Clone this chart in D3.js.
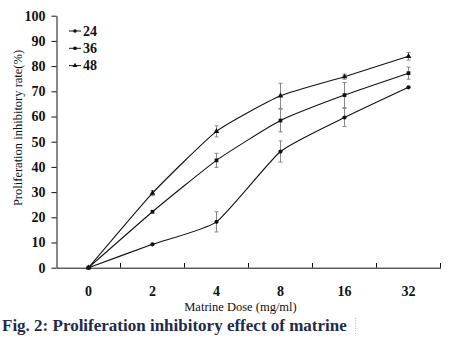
<!DOCTYPE html>
<html><head><meta charset="utf-8">
<script src="https://cdn.jsdelivr.net/npm/d3@7"></script>
<style>body{margin:0;background:#fff}svg{display:block}</style>
</head><body>
<svg id="c" width="469" height="348"></svg>
<script>
const doses = ["0","2","4","8","16","32"];
const seriesNames = ["24","36","48"];
const values24 = [0, 9.3, 18.2, 46.1, 59.6, 71.6];
const values36 = [0, 22.2, 42.6, 58.4, 68.5, 77.2];
const values48 = [0, 29.6, 54.1, 68.2, 75.8, 83.9];
const err24 = [0, 0.4, 4, 4.2, 3.6, 0.4];
const err36 = [0, 0.4, 2.8, 4.5, 5, 2.4];
const err48 = [0, 1, 2.2, 5, 1, 1.5];
const yTicks = [0,10,20,30,40,50,60,70,80,90,100];

const svg = d3.select("#c");
const x = d3.scaleBand().domain(doses).range([56.5, 440.5]);
const y = d3.scaleLinear().domain([0,100]).range([267.7, 15.7]);
const serif = "'Liberation Serif','Times New Roman',serif";

// y axis
const yAxis = svg.append("g").attr("transform","translate(56.5,0)")
  .call(d3.axisLeft(y).tickValues(yTicks).tickSize(5).tickPadding(6).tickSizeOuter(0));
yAxis.select(".domain").attr("stroke","#111");
yAxis.selectAll(".tick line").attr("stroke","#111");
yAxis.selectAll("text").attr("font-family",serif).attr("font-weight","bold")
  .attr("font-size",14).attr("fill","#111");

// x axis
const xAxis = svg.append("g").attr("transform","translate(0,267.7)")
  .call(d3.axisBottom(x).tickSize(0).tickPadding(18).tickSizeOuter(0));
xAxis.select(".domain").attr("stroke","#111");
xAxis.selectAll("text").attr("font-family",serif).attr("font-weight","bold")
  .attr("font-size",14).attr("fill","#111");
svg.append("g").selectAll("line").data(doses).join("line")
  .attr("x1",d=>x(d)+x.bandwidth()).attr("x2",d=>x(d)+x.bandwidth())
  .attr("y1",267.7).attr("y2",263).attr("stroke","#111");

// titles
svg.append("text").attr("transform","translate(22,128) rotate(-90)")
  .attr("text-anchor","middle").attr("font-family",serif).attr("font-size",12.5)
  .attr("fill","#111").text("Proliferation inhibitory rate(%)");
svg.append("text").attr("x",240.5).attr("y",310.5).attr("text-anchor","middle")
  .attr("font-family",serif).attr("font-size",12.5).attr("fill","#111")
  .text("Matrine Dose (mg/ml)");
svg.append("text").attr("x",2).attr("y",330.5)
  .attr("font-family",serif).attr("font-weight","bold").attr("font-size",17)
  .attr("fill","#1f2b4a").text("Fig. 2: Proliferation inhibitory effect of matrine");
svg.append("line").attr("x1",355.5).attr("x2",355.5).attr("y1",318).attr("y2",336)
  .attr("stroke","#bbb").attr("stroke-dasharray","1,1.5");

const allVals = [values24, values36, values48];
const allErr = [err24, err36, err48];
const symbols = [d3.symbolCircle, d3.symbolSquare, d3.symbolTriangle];
const cx = d => x(d) + x.bandwidth()/2;

const line = d3.line().x((d,i)=>cx(doses[i])).y(d=>y(d)).curve(d3.curveCardinal.tension(0.5));

allVals.forEach((vals, s) => {
  const g = svg.append("g");
  const eb = g.selectAll("g.eb").data(vals.map((v,i)=>({v, e: allErr[s][i], d: doses[i]})).filter(o=>o.e>0.6))
    .join("g").attr("class","eb");
  eb.append("line").attr("x1",o=>cx(o.d)).attr("x2",o=>cx(o.d))
    .attr("y1",o=>y(o.v+o.e)).attr("y2",o=>y(o.v-o.e)).attr("stroke","#888").attr("stroke-width",1);
  eb.append("line").attr("x1",o=>cx(o.d)-2).attr("x2",o=>cx(o.d)+2)
    .attr("y1",o=>y(o.v+o.e)).attr("y2",o=>y(o.v+o.e)).attr("stroke","#888");
  eb.append("line").attr("x1",o=>cx(o.d)-2).attr("x2",o=>cx(o.d)+2)
    .attr("y1",o=>y(o.v-o.e)).attr("y2",o=>y(o.v-o.e)).attr("stroke","#888");
  g.append("path").attr("d", line(vals)).attr("fill","none").attr("stroke","#111").attr("stroke-width",1.1);
  g.selectAll("path.m").data(vals).join("path").attr("class","m")
    .attr("transform",(v,i)=>`translate(${cx(doses[i])},${y(v)})`)
    .attr("d", d3.symbol().type(symbols[s]).size(14)).attr("fill","#111");
});

// legend
const leg = svg.append("g");
seriesNames.forEach((n, i) => {
  const yy = 31 + i*17.3;
  leg.append("line").attr("x1",69).attr("x2",81).attr("y1",yy).attr("y2",yy).attr("stroke","#111");
  leg.append("path").attr("transform",`translate(75,${yy})`)
    .attr("d", d3.symbol().type(symbols[i]).size(10)).attr("fill","#111");
  leg.append("text").attr("x",83).attr("y",yy+4.5).attr("font-family",serif)
    .attr("font-weight","bold").attr("font-size",14).attr("fill","#111").text(n);
});
</script>
</body></html>
